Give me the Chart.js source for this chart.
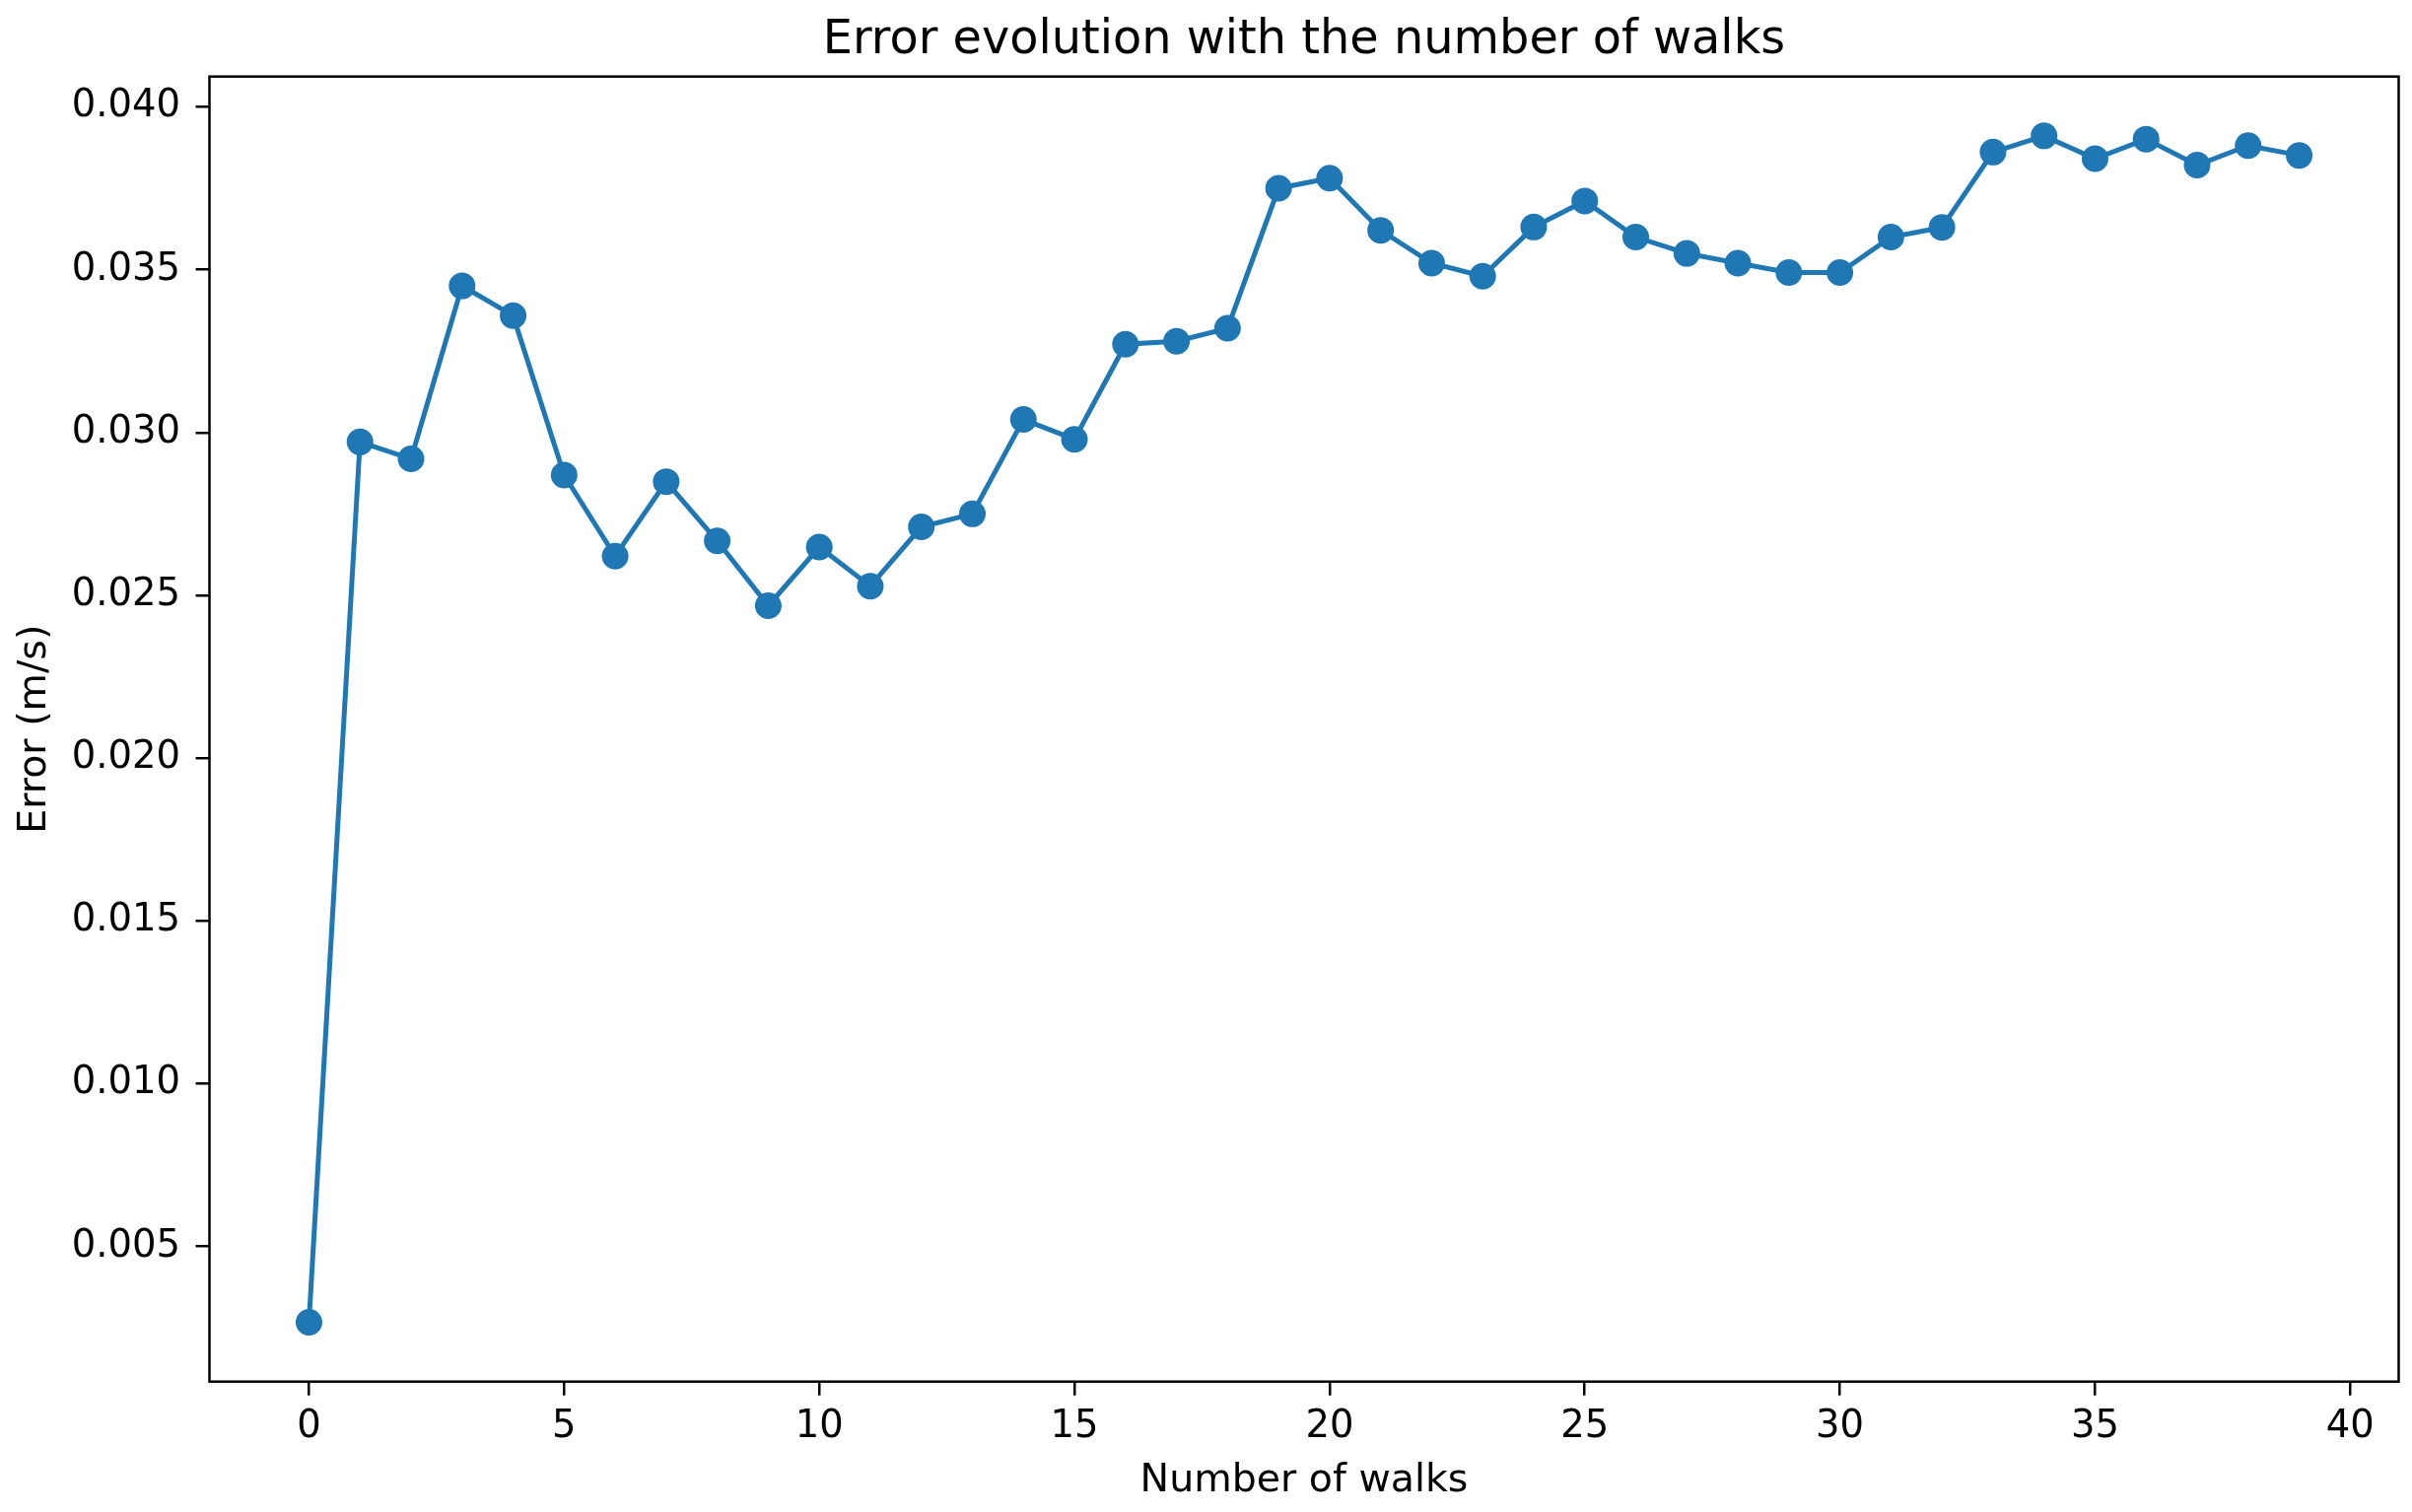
<!DOCTYPE html>
<html>
<head>
<meta charset="utf-8">
<script src="https://cdn.jsdelivr.net/npm/chart.js@4.4.0/dist/chart.umd.min.js"></script>
<style>
  html, body { margin: 0; padding: 0; background: #ffffff; }
  #wrap { width: 2447px; height: 1534px; }
</style>
</head>
<body>
<div id="wrap"><canvas id="c" width="2447" height="1534"></canvas></div>
<script>
// ---- data ----
const walks = [0,1,2,3,4,5,6,7,8,9,10,11,12,13,14,15,16,17,18,19,20,21,22,23,24,25,26,27,28,29,30,31,32,33,34,35,36,37,38,39];
const errors = [0.00267,0.02971,0.02919,0.03450,0.03359,0.02869,0.02620,0.02849,0.02667,0.02468,
                0.02648,0.02528,0.02710,0.02750,0.03040,0.02979,0.03271,0.03280,0.03320,0.03750,
                0.03781,0.03621,0.03520,0.03480,0.03631,0.03711,0.03600,0.03550,0.03520,0.03491,
                0.03491,0.03600,0.03630,0.03861,0.03911,0.03841,0.03901,0.03821,0.03881,0.03851];
const xTicks = [0,5,10,15,20,25,30,35,40];
const yTicks = [0.005,0.010,0.015,0.020,0.025,0.030,0.035,0.040];
const titleText = 'Error evolution with the number of walks';
const xLabel = 'Number of walks';
const yLabel = 'Error (m/s)';

// axis limits with 5% margins (matplotlib-style autoscale)
const xMinD = Math.min(...walks), xMaxD = Math.max(...walks);
const yMinD = Math.min(...errors), yMaxD = Math.max(...errors);
const xPad = 0.05 * (xMaxD - xMinD), yPad = 0.05 * (yMaxD - yMinD);

const FONT = "'DejaVu Sans', 'Liberation Sans', sans-serif";
const BLUE = '#1f77b4';

const framePlugin = {
  id: 'frame',
  afterDraw(chart) {
    const {ctx, chartArea: a} = chart;
    ctx.save();
    ctx.strokeStyle = '#000';
    ctx.lineWidth = 2.5;
    ctx.strokeRect(a.left, a.top, a.right - a.left, a.bottom - a.top);
    ctx.restore();
  }
};

new Chart(document.getElementById('c'), {
  type: 'line',
  data: {
    datasets: [{
      data: walks.map((w, i) => ({x: w, y: errors[i]})),
      borderColor: BLUE,
      backgroundColor: BLUE,
      borderWidth: 5,
      pointRadius: 13.5,
      pointHoverRadius: 13.5,
      pointBorderWidth: 0,
      pointBackgroundColor: BLUE,
      tension: 0,
      fill: false,
      clip: false
    }]
  },
  options: {
    responsive: false,
    animation: false,
    devicePixelRatio: 1,
    layout: { padding: { left: 0, right: 13, top: 0, bottom: 0 } },
    plugins: {
      legend: { display: false },
      tooltip: { enabled: false },
      title: {
        display: true,
        fullSize: false,
        text: titleText,
        color: '#000',
        font: { family: FONT, size: 47.8, weight: 'normal', lineHeight: 1.2 },
        padding: { top: 12.5, bottom: 7.8 }
      }
    },
    scales: {
      x: {
        type: 'linear',
        min: xMinD - xPad,
        max: xMaxD + xPad,
        afterBuildTicks: s => { s.ticks = xTicks.map(v => ({value: v})); },
        afterFit: s => { s.height = 132.3; },
        border: { display: false },
        grid: { display: true, drawOnChartArea: false, drawTicks: true, tickLength: 14, color: '#000', lineWidth: 2.5 },
        ticks: {
          color: '#000',
          font: { family: FONT, size: 38.5, lineHeight: 1.2 },
          padding: 9,
          maxRotation: 0,
          autoSkip: false,
          callback: v => String(v)
        },
        title: {
          display: true,
          text: xLabel,
          color: '#000',
          font: { family: FONT, size: 39.5, lineHeight: 1.2 },
          padding: { top: 0, bottom: 8 }
        }
      },
      y: {
        type: 'linear',
        min: yMinD - yPad,
        max: yMaxD + yPad,
        afterBuildTicks: s => { s.ticks = yTicks.map(v => ({value: v})); },
        afterFit: s => { s.width = 212.5; },
        border: { display: false },
        grid: { display: true, drawOnChartArea: false, drawTicks: true, tickLength: 14, color: '#000', lineWidth: 2.5 },
        ticks: {
          color: '#000',
          font: { family: FONT, size: 38.5, lineHeight: 1.2 },
          padding: 15.5,
          autoSkip: false,
          callback: v => v.toFixed(3)
        },
        title: {
          display: true,
          text: yLabel,
          color: '#000',
          font: { family: FONT, size: 39.5, lineHeight: 1.2 },
          padding: { top: 12.5, bottom: 0 }
        }
      }
    }
  },
  plugins: [framePlugin]
});
</script>
</body>
</html>
